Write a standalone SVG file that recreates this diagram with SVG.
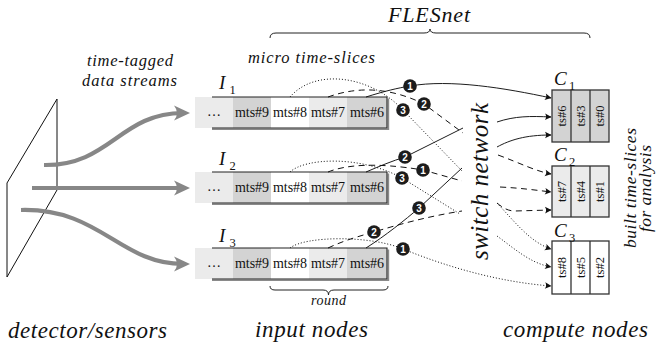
<svg xmlns="http://www.w3.org/2000/svg" xmlns:xlink="http://www.w3.org/1999/xlink" width="657" height="350" viewBox="0 0 657 350">
  <style>
    .it { font-family: "Liberation Serif", "DejaVu Serif", serif; font-style: italic; fill: #111; }
    .rm { font-family: "Liberation Serif", "DejaVu Serif", serif; fill: #111; }
    .cell { font-family: "Liberation Serif", "DejaVu Serif", serif; font-size: 14px; fill: #111; text-anchor: middle; }
    .ts { font-family: "Liberation Serif", "DejaVu Serif", serif; font-size: 12.5px; fill: #111; text-anchor: middle; }
    .frame { fill: none; stroke: #222; stroke-width: 1.1; }
    .shadow { fill: none; stroke: #8a8a8a; stroke-width: 1.6; }
    .cbox { stroke: #333; stroke-width: 1.3; }
    .sol { fill: none; stroke: #111; stroke-width: 0.95; }
    .dsh { fill: none; stroke: #111; stroke-width: 1; stroke-dasharray: 6 4.5; }
    .dot { fill: none; stroke: #111; stroke-width: 1; stroke-dasharray: 1 2; }
    .stream { fill: none; stroke: #878787; stroke-width: 4.2; }
    .brace { fill: none; stroke: #222; stroke-width: 1; }
    .badge circle { fill: #1c1c1c; }
    .badge text { font-family: "Liberation Sans", "DejaVu Sans", sans-serif; font-weight: bold; font-size: 10px; fill: #fff; text-anchor: middle; }
  </style>
  <defs>
    <marker id="tip" markerUnits="userSpaceOnUse" orient="auto" viewBox="-7 -4 8 8" refX="0" refY="0" markerWidth="8" markerHeight="8" overflow="visible">
      <path d="M0.5,0 L-6,-3.3 Q-3.8,0 -6,3.3 Z" fill="#111"/>
    </marker>
    <marker id="gtip" markerUnits="userSpaceOnUse" orient="auto" viewBox="-10 -9 20 18" refX="0" refY="0" markerWidth="20" markerHeight="18" overflow="visible">
      <path d="M7,0 L-9,-7.5 Q-3,0 -9,7.5 Z" fill="#878787"/>
    </marker>
    <!-- one input buffer row of micro time-slices -->
    <g id="mts-row">
      <rect x="195" y="0" width="38" height="31" fill="#ebebeb"/>
      <rect x="233" y="0" width="38" height="31" fill="#d3d3d3"/>
      <rect x="271" y="0" width="38" height="31" fill="#ffffff"/>
      <rect x="309" y="0" width="38" height="31" fill="#ebebeb"/>
      <rect x="347" y="0" width="40" height="31" fill="#d3d3d3"/>
      <path class="shadow" d="M212,32.2 H388.4 V1.5"/>
      <path class="frame" d="M212,0 H387 V31 H212"/>
      <text class="cell" x="214" y="19">…</text>
      <text class="cell" x="252" y="19.5">mts#9</text>
      <text class="cell" x="290" y="19.5">mts#8</text>
      <text class="cell" x="328" y="19.5">mts#7</text>
      <text class="cell" x="367" y="19.5">mts#6</text>
    </g>
  </defs>

  <!-- detector plane and incoming data streams -->
  <g id="detector">
    <polygon points="57,99 57,190 7,277 7,183" fill="none" stroke="#111" stroke-width="1"/>
    <path class="stream" d="M44,165 C110,166 120,113 183,113" marker-end="url(#gtip)"/>
    <path class="stream" d="M32,188 L183,188" marker-end="url(#gtip)"/>
    <path class="stream" d="M21,210 C100,208 120,264 183,264" marker-end="url(#gtip)"/>
    <text class="it" x="87" y="66" font-size="16.5" textLength="86" lengthAdjust="spacing">time-tagged</text>
    <text class="it" x="82" y="86" font-size="16.5" textLength="95" lengthAdjust="spacing">data streams</text>
  </g>

  <!-- FLESnet brace and headings -->
  <g id="flesnet">
    <path class="brace" d="M270,38 Q270,33 276,33 L424,33 Q430,33 430,29 Q430,33 436,33 L584,33 Q590,33 590,38"/>
    <text class="it" x="388" y="22" font-size="22" textLength="82" lengthAdjust="spacing">FLESnet</text>
    <text class="it" x="248" y="63" font-size="16.5" textLength="127" lengthAdjust="spacing">micro time-slices</text>
  </g>

  <!-- input nodes -->
  <g id="input-1">
    <use xlink:href="#mts-row" href="#mts-row" transform="translate(0,97)"/>
    <text class="it" x="219" y="89" font-size="19">I</text>
    <text class="rm" x="229.5" y="93.5" font-size="12.5">1</text>
  </g>
  <g id="input-2">
    <use xlink:href="#mts-row" href="#mts-row" transform="translate(0,172)"/>
    <text class="it" x="219" y="165" font-size="19">I</text>
    <text class="rm" x="229.5" y="169.5" font-size="12.5">2</text>
  </g>
  <g id="input-3">
    <use xlink:href="#mts-row" href="#mts-row" transform="translate(0,248)"/>
    <text class="it" x="219" y="242" font-size="19">I</text>
    <text class="rm" x="229.5" y="246.5" font-size="12.5">3</text>
    <path class="brace" d="M270,286 Q270,290 275,290 L323,290 Q328.5,290 328.5,295 Q328.5,290 334,290 L383,290 Q388,290 388,286"/>
    <text class="it" x="311" y="305" font-size="14" textLength="35" lengthAdjust="spacing">round</text>
  </g>

  <!-- switch network label -->
  <g id="switch">
    <text class="it" font-size="25" transform="translate(487.5,260) rotate(-90)" textLength="157" lengthAdjust="spacing">switch network</text>
  </g>

  <!-- compute nodes -->
  <g id="compute-1">
    <rect class="cbox" x="552" y="90" width="57" height="52" fill="#d3d3d3"/>
    <path class="cbox" d="M571,90 V142 M590,90 V142"/>
    <text class="ts" transform="translate(565.5,116) rotate(-90)">ts#6</text>
    <text class="ts" transform="translate(584.5,116) rotate(-90)">ts#3</text>
    <text class="ts" transform="translate(603.5,116) rotate(-90)">ts#0</text>
    <text class="it" x="554" y="85" font-size="19">C</text>
    <text class="rm" x="569" y="89.5" font-size="12.5">1</text>
  </g>
  <g id="compute-2">
    <rect class="cbox" x="552" y="166" width="57" height="51" fill="#ebebeb"/>
    <path class="cbox" d="M571,166 V217 M590,166 V217"/>
    <text class="ts" transform="translate(565.5,191.5) rotate(-90)">ts#7</text>
    <text class="ts" transform="translate(584.5,191.5) rotate(-90)">ts#4</text>
    <text class="ts" transform="translate(603.5,191.5) rotate(-90)">ts#1</text>
    <text class="it" x="554" y="161" font-size="19">C</text>
    <text class="rm" x="569" y="165.5" font-size="12.5">2</text>
  </g>
  <g id="compute-3">
    <rect class="cbox" x="552" y="241" width="57" height="53" fill="#ffffff"/>
    <path class="cbox" d="M571,241 V294 M590,241 V294"/>
    <text class="ts" transform="translate(565.5,267.5) rotate(-90)">ts#8</text>
    <text class="ts" transform="translate(584.5,267.5) rotate(-90)">ts#5</text>
    <text class="ts" transform="translate(603.5,267.5) rotate(-90)">ts#2</text>
    <text class="it" x="554" y="237" font-size="19">C</text>
    <text class="rm" x="569" y="241.5" font-size="12.5">3</text>
  </g>

  <g id="output-label">
    <text class="it" font-size="17.5" transform="translate(635.5,248) rotate(-90)" textLength="120" lengthAdjust="spacing">built time-slices</text>
    <text class="it" font-size="17.5" transform="translate(650.5,232) rotate(-90)" textLength="87" lengthAdjust="spacing">for analysis</text>
  </g>

  <!-- connectors: solid to C1, dashed to C2, dotted to C3 -->
  <g id="connectors">
    <path class="sol" d="M366,97 C385,91 398,88 410,86 C450,79 505,88 551,98" marker-end="url(#tip)"/>
    <path class="dsh" d="M328,97 Q375,80 424,104 L463,133 M498,155 C520,163 535,171 551,174" marker-end="url(#tip)"/>
    <path class="dot" d="M290,97 C315,68 370,75 403,110 L462,171 M497,203 C515,222 530,242 551,249" marker-end="url(#tip)"/>

    <path class="sol" d="M366,172 C380,166 392,161 405,157 L463,128 M497,122 C515,116 530,116 551,117" marker-end="url(#tip)"/>
    <path class="dsh" d="M328,172 C345,165 375,162 423,170 L462,181 M500,187 C520,188 535,190 551,192" marker-end="url(#tip)"/>
    <path class="dot" d="M290,172 C305,158 360,155 402,178 L460,214 M497,236 C515,249 530,263 551,267" marker-end="url(#tip)"/>

    <path class="sol" d="M366,248 C385,236 405,220 419,208 L462,168 M497,147 C510,140 525,135 551,135" marker-end="url(#tip)"/>
    <path class="dsh" d="M328,248 C345,240 360,236 374,232 C400,224 430,216 462,211 M497,203 C503,208 508,211 515,211 L551,210" marker-end="url(#tip)"/>
    <path class="dot" d="M290,248 C305,236 370,235 403,249 C450,268 500,282 551,286" marker-end="url(#tip)"/>
  </g>

  <!-- transfer order badges -->
  <g id="badges">
    <g class="badge"><circle cx="410" cy="86" r="6.8"/><text x="410" y="89.6">1</text></g>
    <g class="badge"><circle cx="424" cy="104" r="6.8"/><text x="424" y="107.6">2</text></g>
    <g class="badge"><circle cx="403" cy="110" r="6.8"/><text x="403" y="113.6">3</text></g>
    <g class="badge"><circle cx="405" cy="157" r="6.8"/><text x="405" y="160.6">2</text></g>
    <g class="badge"><circle cx="423" cy="170" r="6.8"/><text x="423" y="173.6">1</text></g>
    <g class="badge"><circle cx="402" cy="178" r="6.8"/><text x="402" y="181.6">3</text></g>
    <g class="badge"><circle cx="419" cy="208" r="6.8"/><text x="419" y="211.6">3</text></g>
    <g class="badge"><circle cx="374" cy="232" r="6.8"/><text x="374" y="235.6">2</text></g>
    <g class="badge"><circle cx="403" cy="249" r="6.8"/><text x="403" y="252.6">1</text></g>
  </g>

  <!-- bottom captions -->
  <g id="captions">
    <text class="it" x="8" y="338" font-size="23" textLength="159" lengthAdjust="spacing">detector/sensors</text>
    <text class="it" x="255" y="337" font-size="23" textLength="113" lengthAdjust="spacing">input nodes</text>
    <text class="it" x="503" y="337" font-size="23" textLength="145" lengthAdjust="spacing">compute nodes</text>
  </g>
</svg>
